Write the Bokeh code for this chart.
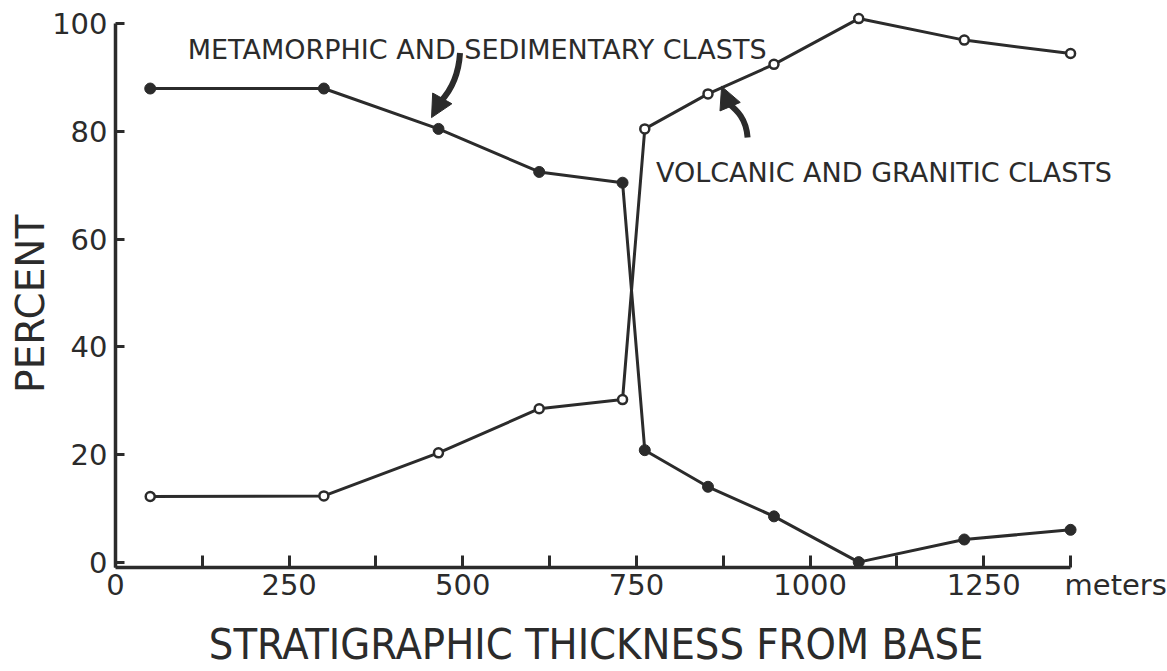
from bokeh.plotting import figure
from bokeh.models import Range1d, FixedTicker, Label, Arrow, NormalHead, LinearAxis
from bokeh.embed import file_html
from bokeh.resources import INLINE

# ---- data ----
thickness_m = [50, 300, 465, 610, 730, 762, 853, 948, 1070, 1222, 1375]
metamorphic_sedimentary_pct = [88, 88, 80.5, 72.5, 70.5, 20.8, 14, 8.5, 0, 4.2, 6]
volcanic_granitic_pct = [12.2, 12.3, 20.3, 28.5, 30.2, 80.5, 87, 92.5, 101, 97, 94.5]
x_major_ticks = [0, 250, 500, 750, 1000, 1250]
x_minor_ticks = [125, 375, 625, 875, 1125, 1375]
y_ticks = [0, 20, 40, 60, 80, 100]
x_unit_label = "meters"
x_title = "STRATIGRAPHIC THICKNESS FROM BASE"
y_title = "PERCENT"
series_labels = ["METAMORPHIC AND SEDIMENTARY CLASTS", "VOLCANIC AND GRANITIC CLASTS"]

INK = "#2b2b2b"
FONT = "DejaVu Sans"
UNIT_POS = 1440      # where the unit word sits on the x scale
XTITLE_POS = 692     # centre of the x title on the x scale
YTITLE_POS = 48      # centre of the y title on the y scale

p = figure(width=1167, height=671, output_backend="svg", toolbar_location=None,
           x_range=Range1d(0, 1480), y_range=Range1d(-1.0, 102.5),
           min_border_left=115, min_border_right=24, min_border_top=10,
           min_border_bottom=101, background_fill_color="white",
           border_fill_color="white")
p.outline_line_color = None
p.grid.visible = False


def plain(axis):
    axis.axis_line_color = None
    axis.major_tick_line_color = None
    axis.minor_tick_line_color = None
    axis.major_tick_in = 0
    axis.major_tick_out = 0
    axis.minor_tick_in = 0
    axis.minor_tick_out = 0


# x axis A: line and ticks only
xa = p.xaxis[0]
xa.ticker = FixedTicker(ticks=x_major_ticks, minor_ticks=x_minor_ticks)
xa.bounds = (0, 1375)
xa.axis_line_width = 3.5
xa.axis_line_color = INK
xa.major_tick_in = 12
xa.major_tick_out = 0
xa.minor_tick_in = 12
xa.minor_tick_out = 0
xa.major_tick_line_width = 3
xa.minor_tick_line_width = 3
xa.major_tick_line_color = INK
xa.minor_tick_line_color = INK
xa.major_label_text_font_size = "1px"
xa.major_label_text_color = None
xa.major_label_standoff = 0

# x axis B: tick numbers and the unit word
xb = LinearAxis(ticker=FixedTicker(ticks=x_major_ticks + [UNIT_POS], minor_ticks=[]),
                major_label_overrides={UNIT_POS: x_unit_label})
plain(xb)
xb.major_label_text_font = FONT
xb.major_label_text_font_size = "29px"
xb.major_label_text_color = INK
xb.major_label_standoff = 0
p.add_layout(xb, "below")

# x axis C: title
xc = LinearAxis(ticker=FixedTicker(ticks=[XTITLE_POS], minor_ticks=[]),
                major_label_overrides={XTITLE_POS: x_title})
plain(xc)
xc.major_label_text_font = "DejaVu Sans Condensed"
xc.major_label_text_font_size = "43px"
xc.major_label_text_color = INK
xc.major_label_standoff = 14
p.add_layout(xc, "below")

# y axis
ya = p.yaxis[0]
ya.ticker = FixedTicker(ticks=y_ticks, minor_ticks=[])
ya.bounds = (-1.0, 100)
ya.axis_line_width = 3.5
ya.axis_line_color = INK
ya.major_tick_in = 9
ya.major_tick_out = 0
ya.minor_tick_in = 0
ya.minor_tick_out = 0
ya.major_tick_line_width = 3
ya.major_tick_line_color = INK
ya.major_label_text_font = FONT
ya.major_label_text_font_size = "29px"
ya.major_label_text_color = INK
ya.major_label_standoff = 8

# y title as a second left axis
yd = LinearAxis(ticker=FixedTicker(ticks=[YTITLE_POS], minor_ticks=[]),
                major_label_overrides={YTITLE_POS: y_title},
                major_label_orientation="vertical")
plain(yd)
yd.major_label_text_font = FONT
yd.major_label_text_font_size = "39px"
yd.major_label_text_color = INK
yd.major_label_standoff = -4
p.add_layout(yd, "left")

# series
p.line(thickness_m, metamorphic_sedimentary_pct, line_width=3, line_color=INK)
p.line(thickness_m, volcanic_granitic_pct, line_width=3, line_color=INK)
p.scatter(thickness_m, metamorphic_sedimentary_pct, size=11, fill_color=INK,
          line_color=INK, line_width=1)
p.scatter(thickness_m, volcanic_granitic_pct, size=9, fill_color="white",
          line_color=INK, line_width=2.5)

# annotation texts
p.add_layout(Label(x=104, y=95.2, text=series_labels[0],
                   text_font=FONT, text_font_size="27px", text_color=INK,
                   text_baseline="alphabetic", text_align="left"))
p.add_layout(Label(x=778, y=72.4, text=series_labels[1],
                   text_font=FONT, text_font_size="27px", text_color=INK,
                   text_baseline="alphabetic", text_align="left"))

# curved arrows pointing at the two series
p.bezier(x0=[496, 910], y0=[94.6, 78.9], x1=[468, 883], y1=[85.6, 85.2],
         cx0=[494, 908], cy0=[90.5, 82.5], cx1=[482, 894], cy1=[87.5, 84.0],
         line_width=6, line_color=INK)
for sx, sy, hx, hy in [(468, 85.6, 455, 82.6), (883, 85.2, 872.6, 88.4)]:
    p.add_layout(Arrow(x_start=sx, y_start=sy, x_end=hx, y_end=hy,
                       line_width=6, line_color=INK,
                       end=NormalHead(size=22, fill_color=INK, line_color=INK)))

open("out.html", "w").write(file_html(p, INLINE))
